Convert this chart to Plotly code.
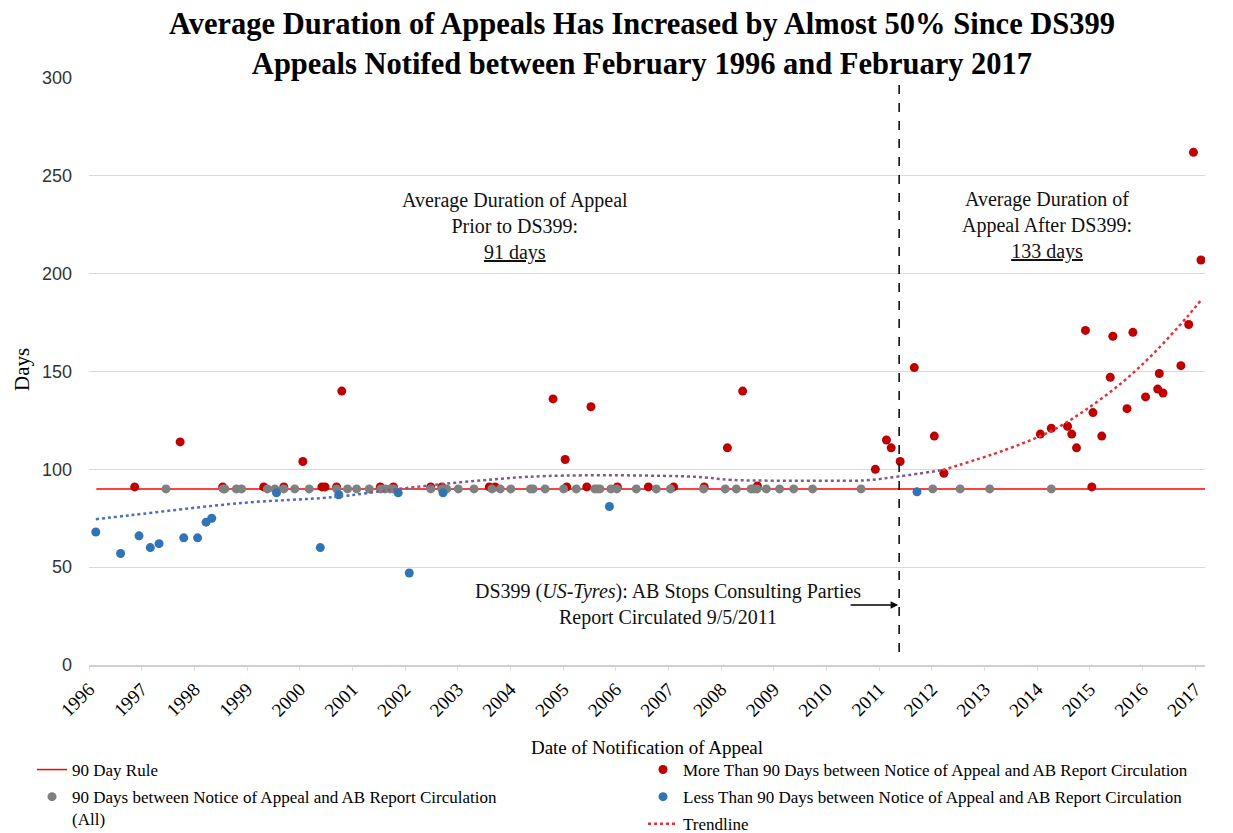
import plotly.graph_objects as go

# ---------------- data ----------------
more_dates = ["1996-11-13", "1997-09-24", "1998-07-16", "1999-04-27", "1999-09-13", "2000-01-23",
              "2000-06-03", "2000-06-25", "2000-09-13", "2000-10-19", "2001-07-13", "2001-10-12",
              "2002-06-28", "2002-09-13", "2003-08-08", "2003-09-17", "2004-10-23", "2005-01-15",
              "2005-01-26", "2005-06-14", "2005-07-13", "2006-01-12", "2006-08-15", "2007-02-06",
              "2007-09-06", "2008-02-14", "2008-05-30", "2008-09-09", "2010-12-06", "2011-02-21",
              "2011-03-26", "2011-05-27", "2011-09-02", "2012-01-19", "2012-03-25", "2014-01-23",
              "2014-04-09", "2014-07-31", "2014-08-29", "2014-10-01", "2014-12-02", "2015-01-15",
              "2015-01-23", "2015-03-25", "2015-05-23", "2015-06-10", "2015-09-16", "2015-10-27",
              "2016-01-23", "2016-04-16", "2016-04-27", "2016-05-23", "2016-09-24", "2016-11-17",
              "2016-12-20", "2017-02-10"]
more_days = [91, 114, 91, 91, 91, 104,
             91, 91, 91, 140, 91, 91,
             91, 91, 91, 91, 136, 105,
             91, 91, 132, 91, 91, 91,
             91, 111, 140, 91.5, 100, 115,
             111, 104, 152, 117, 98, 118,
             121, 122, 118, 111, 171, 91,
             129, 117, 147, 168, 131, 170,
             137, 141, 149, 139, 153, 174,
             262, 207]

equal_dates = ["1997-06-18", "1998-07-20", "1998-07-31", "1998-10-19", "1998-11-24", "1999-05-22",
               "1999-07-13", "1999-09-13", "1999-11-28", "2000-03-07", "2000-09-13", "2000-11-28",
               "2001-01-30", "2001-04-27", "2001-07-16", "2001-08-15", "2001-09-20", "2001-10-12",
               "2002-06-28", "2002-09-13", "2002-10-16", "2003-01-05", "2003-04-24", "2003-08-26",
               "2003-10-23", "2004-01-04", "2004-05-19", "2004-06-07", "2004-08-29", "2005-01-04",
               "2005-04-02", "2005-08-08", "2005-08-26", "2005-09-13", "2005-11-28", "2006-01-08",
               "2006-05-23", "2006-10-09", "2007-01-15", "2007-09-02", "2008-01-30", "2008-04-16",
               "2008-07-27", "2008-08-15", "2008-09-06", "2008-11-10", "2009-02-10", "2009-05-19",
               "2009-09-27", "2010-08-29", "2012-01-08", "2012-07-16", "2013-02-06", "2014-04-09"]
equal_days = [90] * len(equal_dates)

less_dates = ["1996-02-17", "1996-08-07", "1996-12-13", "1997-03-01", "1997-05-01", "1997-10-19",
              "1998-01-23", "1998-03-23", "1998-05-01", "1999-07-24", "2000-05-23", "2000-09-28",
              "2001-11-14", "2002-01-30", "2002-09-21", "2005-11-18", "2011-09-21"]
less_days = [68, 57, 66, 60, 62, 65,
             65, 73, 75, 88, 60, 87,
             88, 47, 88, 81, 88.5]

rule_dates = ["1996-02-21", "2017-03-10"]
rule_days = [90, 90]

trend_dates_blue = ["1996-02-17", "1996-10-20", "1998-11-24", "2000-08-07", "2001-05-01"]
trend_days_blue = [74.5, 76.6, 82.8, 85.7, 88.0]
trend_dates_purple = ["2001-05-01", "2001-09-13", "2003-04-20", "2004-09-13", "2007-07-01",
                      "2008-03-15", "2009-10-20", "2010-10-01", "2011-05-20", "2012-03-15"]
trend_days_purple = [88.0, 89.4, 94.0, 96.6, 96.2, 94.6, 94.2, 94.4, 96.4, 99.6]
trend_dates_red = ["2012-03-15", "2013-05-27", "2014-04-20", "2014-11-25", "2015-08-07",
                   "2016-03-15", "2016-11-07", "2017-02-10"]
trend_days_red = [99.6, 110, 120, 130, 144, 159, 178, 186.5]

ds399_date = "2011-05-20"
x_range = ["1996-01-01", "2017-03-10"]
y_ticks = [0, 50, 100, 150, 200, 250, 300]

SERIF = "Liberation Serif, Times New Roman, serif"
SANS = "Liberation Sans, Arial, sans-serif"

# page geometry: the page is shown with an 8px body offset
OFF = 8
W, H = 1233, 833
# plot-area edges as seen on screen
SL, SR, ST, SB = 89, 1205, 78, 665


def px(xs):  # screen x -> paper fraction
    return (xs - SL) / (SR - SL)


def py(ys):  # screen y -> paper fraction
    return (SB - ys) / (SB - ST)


def cx(xs):  # screen x -> container fraction
    return (xs - OFF) / W


def cy(ys):  # screen y -> container fraction
    return 1 - (ys - OFF) / H


fig = go.Figure()

fig.add_trace(go.Scatter(x=rule_dates, y=rule_days, mode="lines", name="90 Day Rule",
                         line=dict(color="#FF0000", width=1.5), legend="legend",
                         legendgroup="a", legendrank=1, hoverinfo="skip"))
fig.add_trace(go.Scatter(x=more_dates, y=more_days, mode="markers",
                         name="More Than 90 Days between Notice of Appeal and AB Report Circulation",
                         marker=dict(color="#C00000", size=9), legend="legend2",
                         legendgroup="b", legendrank=1))
fig.add_trace(go.Scatter(x=equal_dates, y=equal_days, mode="markers",
                         name="90 Days between Notice of Appeal and AB Report Circulation<br>(All)",
                         marker=dict(color="#808080", size=9), legend="legend",
                         legendgroup="c", legendrank=2))
fig.add_trace(go.Scatter(x=less_dates, y=less_days, mode="markers",
                         name="Less Than 90 Days between Notice of Appeal and AB Report Circulation",
                         marker=dict(color="#2E75B6", size=9), legend="legend2",
                         legendgroup="d", legendrank=2))
fig.add_trace(go.Scatter(x=trend_dates_blue, y=trend_days_blue, mode="lines", showlegend=False,
                         line=dict(color="#4A6FC0", width=2.5, dash="dot", shape="spline"),
                         hoverinfo="skip"))
fig.add_trace(go.Scatter(x=trend_dates_purple, y=trend_days_purple, mode="lines", showlegend=False,
                         line=dict(color="#7E5A8C", width=2.5, dash="dot", shape="spline"),
                         hoverinfo="skip"))
fig.add_trace(go.Scatter(x=trend_dates_red, y=trend_days_red, mode="lines", name="Trendline",
                         line=dict(color="#E8303A", width=2.5, dash="dot", shape="spline"),
                         legend="legend2", legendgroup="e", legendrank=3, hoverinfo="skip"))

fig.add_shape(type="line", xref="x", yref="paper", x0=ds399_date, x1=ds399_date, y0=py(652), y1=1,
              line=dict(color="black", width=1.5, dash="dash"))

ann_font = dict(family=SERIF, size=20, color="#111111")
fig.add_annotation(x=px(515), y=py(227), xref="paper", yref="paper", xanchor="center", yanchor="middle",
                   text="Average Duration of Appeal<br>Prior to DS399:<br><u>91 days</u>",
                   showarrow=False, font=ann_font, align="center")
fig.add_annotation(x=px(1047), y=py(226), xref="paper", yref="paper", xanchor="center", yanchor="middle",
                   text="Average Duration of<br>Appeal After DS399:<br><u>133 days</u>",
                   showarrow=False, font=ann_font, align="center")
fig.add_annotation(x=px(668), y=py(604), xref="paper", yref="paper", xanchor="center", yanchor="middle",
                   text="DS399 (<i>US-Tyres</i>): AB Stops Consulting Parties<br>Report Circulated 9/5/2011",
                   showarrow=False, font=ann_font, align="center")
fig.add_annotation(x=ds399_date, y=py(605), xref="x", yref="paper", text="",
                   showarrow=True, arrowhead=2, arrowsize=1, arrowwidth=1.5, arrowcolor="black",
                   ax=-50, ay=0, standoff=1)
# y-axis title
fig.add_annotation(x=px(22), y=py(370), xref="paper", yref="paper", xanchor="center", yanchor="middle",
                   text="Days", textangle=-90, showarrow=False,
                   font=dict(family=SERIF, size=21, color="black"))

fig.update_layout(
    width=W, height=H,
    margin=dict(l=SL - OFF, r=W - (SR - OFF), t=ST - OFF, b=H - (SB - OFF), autoexpand=False),
    paper_bgcolor="white", plot_bgcolor="white",
    title=dict(text="<b>Average Duration of Appeals Has Increased by Almost 50% Since DS399<br>"
                    "Appeals Notifed between February 1996 and February 2017</b>",
               x=px(642), xref="paper", xanchor="center", y=1 - 26 / H, yref="container",
               yanchor="middle", font=dict(family=SERIF, size=30.5, color="black")),
    xaxis=dict(type="date", range=x_range, tickformat="%Y", dtick="M12", tick0="1996-01-01",
               tickangle=-45, showgrid=False, showline=True, linecolor="#D0D0D0", linewidth=1.5,
               ticks="outside", ticklen=4, tickcolor="#E0E0E0", automargin=False,
               tickfont=dict(family=SERIF, size=19, color="black"),
               title=dict(text="Date of Notification of Appeal", standoff=21,
                          font=dict(family=SERIF, size=19, color="black")),
               zeroline=False),
    yaxis=dict(range=[0, 300], tickvals=y_ticks, showgrid=True, gridcolor="#D9D9D9", gridwidth=1,
               zeroline=False, showline=False, ticks="", ticklabelstandoff=16, automargin=False,
               tickfont=dict(family=SANS, size=18, color="#333333")),
    legend=dict(x=cx(32), xref="container", xanchor="left", y=cy(752), yref="container",
                yanchor="top", orientation="v", traceorder="grouped", tracegroupgap=2, valign="top",
                font=dict(family=SERIF, size=17, color="black"), bgcolor="rgba(0,0,0,0)"),
    legend2=dict(x=cx(643), xref="container", xanchor="left", y=cy(752), yref="container",
                 yanchor="top", orientation="v", traceorder="grouped", tracegroupgap=2,
                 font=dict(family=SERIF, size=17, color="black"), bgcolor="rgba(0,0,0,0)"),
    showlegend=True,
)

fig.write_html("out.html")
